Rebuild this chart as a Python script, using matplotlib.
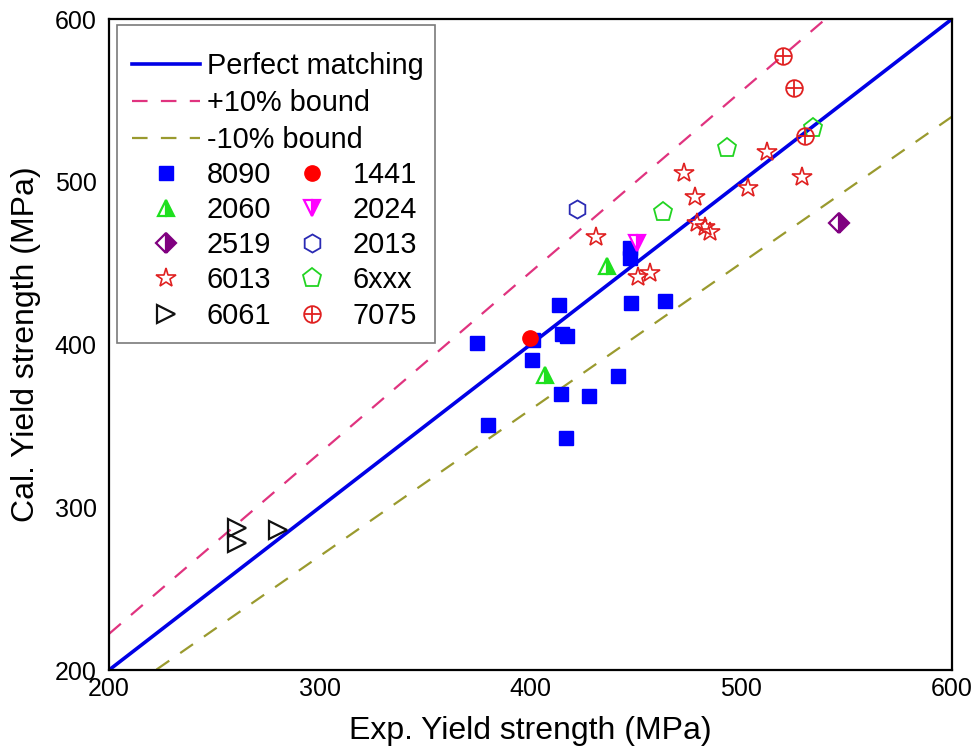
import matplotlib
matplotlib.use("Agg")
import matplotlib.pyplot as plt
from matplotlib.patches import Rectangle
from matplotlib.legend_handler import HandlerTuple
import numpy as np

plt.rcParams['font.family'] = ['Liberation Sans', 'DejaVu Sans']

# ---- data (Exp., Cal.) yield strengths in MPa ----
x_8090 = [374.5, 400.6, 413.7, 414.8, 417.2, 414.5, 427.6, 441.7, 379.7, 416.8, 447.7, 463.8, 447.2, 447.2, 401.2]
y_8090 = [400.7, 390.5, 424.3, 406.5, 405.3, 369.6, 368.5, 380.8, 350.5, 342.4, 425.7, 426.9, 459.3, 453.2, 402.8]
x_1441 = [399.8]
y_1441 = [403.8]
x_2060 = [406.9, 436.2]
y_2060 = [381.3, 448.2]
x_2024 = [450.4]
y_2024 = [462.2]
x_2519 = [546.5]
y_2519 = [474.5]
x_2013 = [421.9]
y_2013 = [483.3]
x_6013 = [431.1, 451.2, 456.7, 473.0, 478.1, 478.9, 482.8, 485.2, 503.1, 512.1, 528.7]
y_6013 = [466.2, 441.7, 444.1, 505.2, 490.8, 474.5, 472.4, 469.3, 496.3, 518.5, 503.1]
x_6xxx = [463.0, 493.1, 534.2]
y_6xxx = [481.6, 520.6, 532.8]
x_6061 = [260.6, 260.6, 280.3]
y_6061 = [287.1, 277.9, 286.0]
x_7075 = [520.0, 525.2, 530.3]
y_7075 = [577.3, 557.4, 528.1]

axis_min, axis_max = 200, 600
ticks = [200, 300, 400, 500, 600]

fig = plt.figure(figsize=(9.78, 7.54), dpi=100)
ax = fig.add_axes([0.1115, 0.1114, 0.8619, 0.8634])

xl = np.array([axis_min, axis_max], dtype=float)
h_perf, = ax.plot(xl, xl, color='#0000e6', lw=2.6, label='Perfect matching', zorder=2)
h_up, = ax.plot(xl, xl / 0.9, color='#e0337f', lw=1.6, dashes=(7, 6), label='+10% bound', zorder=2)
h_lo, = ax.plot(xl, xl * 0.9, color='#9a9a2e', lw=1.6, dashes=(7, 6), label='-10% bound', zorder=2)

h8090, = ax.plot(x_8090, y_8090, ls='none', marker='s', ms=10, color='#0000ff', mec='#0000ff', label='8090', zorder=3)
h1441, = ax.plot(x_1441, y_1441, ls='none', marker='o', ms=11, color='#ff0000', mec='#ff0000', label='1441', zorder=4)
h2060, = ax.plot(x_2060, y_2060, ls='none', marker='^', ms=12, color='#1ee01e', mec='#1ee01e', mew=1.6,
                 fillstyle='right', markerfacecoloralt='white', label='2060', zorder=4)
h2024, = ax.plot(x_2024, y_2024, ls='none', marker='v', ms=12, color='#ff00ff', mec='#ff00ff', mew=1.6,
                 fillstyle='right', markerfacecoloralt='white', label='2024', zorder=4)
h2519, = ax.plot(x_2519, y_2519, ls='none', marker='D', ms=10, color='#800080', mec='#800080', mew=1.6,
                 fillstyle='right', markerfacecoloralt='white', label='2519', zorder=4)
h2013, = ax.plot(x_2013, y_2013, ls='none', marker='h', ms=13, mfc='none', mec='#2a2ab4', mew=1.3, label='2013', zorder=4)
h6013, = ax.plot(x_6013, y_6013, ls='none', marker='*', ms=15, mfc='none', mec='#e02020', mew=1.2, label='6013', zorder=4)
h6xxx, = ax.plot(x_6xxx, y_6xxx, ls='none', marker='p', ms=14, mfc='none', mec='#22d422', mew=1.3, label='6xxx', zorder=4)
h6061, = ax.plot(x_6061, y_6061, ls='none', marker='>', ms=13, mfc='none', mec='#111111', mew=1.6, label='6061', zorder=4)
h7075a, = ax.plot(x_7075, y_7075, ls='none', marker='o', ms=12, mfc='none', mec='#e02020', mew=1.3, zorder=4)
h7075b, = ax.plot(x_7075, y_7075, ls='none', marker='+', ms=12, mec='#e02020', mew=1.3, zorder=4)

ax.set_xlim(axis_min, axis_max)
ax.set_ylim(axis_min, axis_max)
ax.set_xticks(ticks)
ax.set_yticks(ticks)
ax.tick_params(length=0, labelsize=18)
ax.tick_params(axis='x', pad=5)
ax.tick_params(axis='y', pad=9)
for s in ax.spines.values():
    s.set_linewidth(1.6)
    s.set_color('black')

ax.set_xlabel('Exp. Yield strength (MPa)', fontsize=23, labelpad=11)
ax.set_ylabel('Cal. Yield strength (MPa)', fontsize=23, labelpad=10)

# legend box
box = Rectangle((0.0091, 0.5023), 0.3776, 0.4885, transform=ax.transAxes,
                facecolor='white', edgecolor='#7a7a7a', lw=1.2, zorder=5)
ax.add_patch(box)

lfs = 20.8
leg1 = ax.legend(handles=[h_perf, h_up, h_lo], loc='center left', bbox_to_anchor=(0.0269, 0.871),
                 frameon=False, fontsize=lfs, handlelength=2.36, handletextpad=0.23,
                 labelspacing=0.32, borderpad=0, borderaxespad=0)
leg1.set_zorder(6)
ax.add_artist(leg1)

mk_handles = [h8090, h2060, h2519, h6013, h6061, h1441, h2024, h2013, h6xxx, (h7075a, h7075b)]
mk_labels = ['8090', '2060', '2519', '6013', '6061', '1441', '2024', '2013', '6xxx', '7075']
leg2 = ax.legend(handles=mk_handles, labels=mk_labels, ncol=2, loc='center left',
                 bbox_to_anchor=(0.0269, 0.6525), frameon=False, fontsize=lfs,
                 handlelength=2.36, handletextpad=0.23, columnspacing=0.24,
                 labelspacing=0.25, borderpad=0, borderaxespad=0, numpoints=1,
                 handler_map={tuple: HandlerTuple(ndivide=1)})
leg2.set_zorder(6)

fig.savefig('out.png', dpi=100)
